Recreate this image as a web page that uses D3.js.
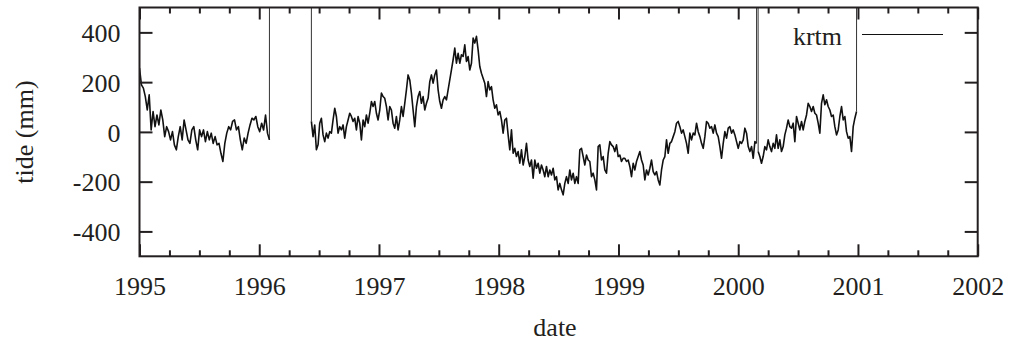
<!DOCTYPE html>
<html>
<head>
<meta charset="utf-8">
<script src="https://cdn.jsdelivr.net/npm/d3@7"></script>
</head>
<body style="margin:0">
<svg id="tideplot" width="1011" height="347" font-family="Times New Roman, Liberation Serif, Tinos, serif"></svg>
<script>
// ---------------- data ----------------
// tick labels
const xTicks = [1995, 1996, 1997, 1998, 1999, 2000, 2001, 2002];
const yTicks = [-400, -200, 0, 200, 400];
const seriesName = "krtm";
const xLabel = "date";
const yLabel = "tide (mm)";

// missing-value flag used in the source file (plotted far above range)
const MISSING = 9999;

// sampling interval of the readings (decimal years)
const sampleStep = 0.013924;

// segment 1: 1995.0 .. early 1996 (evenly spaced over the span)
const seg1Start = 1995.0, seg1End = 1996.085;
const seg1Values = [256, 189, 176, 142, 88, 149, 8, 82, 21, 68, 28, 88, 48, -19, 21, 1, -32, 1, -52, -72,
  -19, 21, -32, 48, 8, -32, -46, 8, 21, -32, -72, 8, -19, 8, -39, 1, -32, -5, -46, -19,
  -52, -46, -86, -119, -46, -5, 21, 8, 42, 48, 8, 21, -32, -72, -25, -46, -5, 28, 55, 48,
  62, 21, 1, 35, 8, 68, -5, -32];

// segment 2: mid 1996 .. early 2000
const seg2Start = 1996.4355;
const seg2Values = [
  // 1996
  42, -19, 28, -72, -52, 35, 55, -12, -39, -5, -25, 1, -5, 48, 95, 62, -5, 21, 8, 28,
  -25, 21, 48, 75, 62, 42, 55, 8, 62, 35, -32, 48, 21, 68, 35, 75, 122, 102, 122, 75,
  48, 88, 156, 142,
  // 1997
  135, 102, 48, 102, 88, 35, 15, 62, 8, 48, 102, 62, 115, 169, 229, 209, 156, 88, 21, 102,
  142, 162, 115, 142, 88, 115, 135, 202, 229, 196, 229, 249, 169, 122, 95, 129, 142, 129, 169, 209,
  249, 290, 337, 276, 316, 276, 310, 303, 350, 283, 303, 249, 276, 377, 357, 384, 330, 263, 236, 216,
  196, 142, 202, 169, 182, 129, 95, 109, 68, 82, 48, -5,
  // 1998
  48, 55, -12, -72, 8, -86, -66, -99, -79, -126, -72, -133, -99, -46, -113, -139, -113, -186, -113, -146,
  -126, -166, -133, -153, -180, -139, -180, -153, -173, -146, -193, -180, -233, -207, -233, -253, -207, -180, -207, -153,
  -193, -166, -207, -180, -207, -72, -66, -99, -133, -93, -113, -119, -180, -166, -193, -233, -59, -52, -113, -99,
  -153, -166, -86, -39, -52, -59, -79, -52, -99, -93, -119, -106,
  // 1999
  -106, -119, -113, -139, -180, -126, -153, -119, -99, -79, -113, -133, -193, -153, -173, -146, -113, -160, -173, -160,
  -193, -213, -153, -113, -99, -32, -86, -46, -39, -19, 1, 35, 42, 21, -5, 8, -19, -46, -86, -5,
  -32, -5, -12, 35, 1, -19, -46, -66, -19, 42, 35, 15, 21, -5, 28, -5, -19, -59, -106, -46,
  1, -25, 15, 21, -5, 8, -12, -39, -66, -39, -46, -32,
  // early 2000
  15, -5, -59, -79, -59, -106, -39, -46];

// segment 3: 2000 after the single missing reading
const seg3Start = 2000.1666;
const seg3Values = [-79, -99, -126, -99, -59, -72, -32, -59, -79, -46, -66, -12, -66, -32, -79, -59, -12, 15, 48, 21,
  15, 35, -39, 62, 35, 8, 42, 8, 42, 68, 115, 102, 82, 102, 75, 68, 35, -5, 115, 149,
  109, 129, 102, 88, 62, 68, 21, -12, 8, 62, 102, 48, 62, 1, -25, -19, -79, 21, 55, 82];

// times at which the record holds the missing-value flag
const missingTimes = [1996.088, 1996.434, 2000.158, 2000.996, 2001.9];

// ---------------- assemble ----------------
const points = [];
seg1Values.forEach((v, i) => points.push({ t: seg1Start + i * (seg1End - seg1Start) / (seg1Values.length - 1), v }));
seg2Values.forEach((v, i) => points.push({ t: seg2Start + i * sampleStep, v }));
seg3Values.forEach((v, i) => points.push({ t: seg3Start + i * sampleStep, v }));
missingTimes.forEach(t => points.push({ t, v: MISSING }));
points.sort((a, b) => a.t - b.t);

// connectors to/from missing readings (drawn thin, clipped at the frame)
const connectors = [];
for (let i = 1; i < points.length; i++) {
  const a = points[i - 1], b = points[i];
  if ((a.v === MISSING) !== (b.v === MISSING)) connectors.push([a, b]);
}

// ---------------- layout ----------------
const svg = d3.select("#tideplot");
const L = 139.5, R = 977.7, T = 7.5, B = 256.3;
const ink = "#231f20";

const x = d3.scaleLinear().domain([1995, 2002]).range([L, R]);
const y = d3.scaleLinear().domain([-500, 500]).range([B, T]);

svg.append("defs").append("clipPath").attr("id", "plotclip")
  .append("rect").attr("x", L).attr("y", T).attr("width", R - L).attr("height", B - T);

const line = d3.line().x(d => x(d.t)).y(d => y(d.v));
const plot = svg.append("g").attr("clip-path", "url(#plotclip)");

// thin connectors to the off-scale missing values
plot.selectAll("path.gap").data(connectors).join("path")
  .attr("class", "gap")
  .attr("fill", "none")
  .attr("stroke", "#333")
  .attr("stroke-width", 1)
  .attr("d", line);

// data line
plot.append("path")
  .datum(points)
  .attr("fill", "none")
  .attr("stroke", "#111")
  .attr("stroke-width", 1.6)
  .attr("stroke-linejoin", "round")
  .attr("d", line.defined(d => d.v !== MISSING));

// axes with inward ticks
const minorX = d3.range(1995, 2002.001, 0.25).filter(v => Math.abs(v - Math.round(v)) > 1e-6);
const plain = d => String(d);

function styleAxis(g) {
  g.attr("font-family", null).attr("font-size", 26);
  g.select(".domain").remove();
  g.selectAll("line").attr("stroke", ink).attr("stroke-width", 2);
  g.selectAll("text").attr("fill", ink);
}

// bottom major
svg.append("g").attr("transform", `translate(0,${B})`)
  .call(d3.axisBottom(x).tickValues(xTicks).tickFormat(plain).tickSizeInner(-12).tickSizeOuter(0))
  .call(styleAxis)
  .call(g => g.selectAll("text").attr("dy", "0.71em").attr("y", 20));
// bottom minor
svg.append("g").attr("transform", `translate(0,${B})`)
  .call(d3.axisBottom(x).tickValues(minorX).tickFormat("").tickSizeInner(-6).tickSizeOuter(0))
  .call(styleAxis);
// top major / minor
svg.append("g").attr("transform", `translate(0,${T})`)
  .call(d3.axisTop(x).tickValues(xTicks).tickFormat("").tickSizeInner(-12).tickSizeOuter(0))
  .call(styleAxis);
svg.append("g").attr("transform", `translate(0,${T})`)
  .call(d3.axisTop(x).tickValues(minorX).tickFormat("").tickSizeInner(-6).tickSizeOuter(0))
  .call(styleAxis);
// left
svg.append("g").attr("transform", `translate(${L},0)`)
  .call(d3.axisLeft(y).tickValues(yTicks).tickFormat(plain).tickSizeInner(-13).tickSizeOuter(0))
  .call(styleAxis)
  .call(g => g.selectAll("text").attr("x", -19).attr("dy", "0.35em"));
// right
svg.append("g").attr("transform", `translate(${R},0)`)
  .call(d3.axisRight(y).tickValues(yTicks).tickFormat("").tickSizeInner(-13).tickSizeOuter(0))
  .call(styleAxis);

// frame
svg.append("rect").attr("x", L).attr("y", T).attr("width", R - L).attr("height", B - T)
  .attr("fill", "none").attr("stroke", ink).attr("stroke-width", 2);

// axis titles
svg.append("text").attr("x", 555).attr("y", 336).attr("text-anchor", "middle")
  .attr("font-size", 26).attr("fill", ink).text(xLabel);
svg.append("text").attr("transform", "translate(33,132) rotate(-90)").attr("text-anchor", "middle")
  .attr("font-size", 26).attr("fill", ink).text(yLabel);

// legend
svg.append("text").attr("x", 842).attr("y", 45).attr("text-anchor", "end")
  .attr("font-size", 26).attr("fill", ink).text(seriesName);
svg.append("line").attr("x1", 862).attr("x2", 943).attr("y1", 34.5).attr("y2", 34.5)
  .attr("stroke", "#111").attr("stroke-width", 1.1);
</script>
</body>
</html>
